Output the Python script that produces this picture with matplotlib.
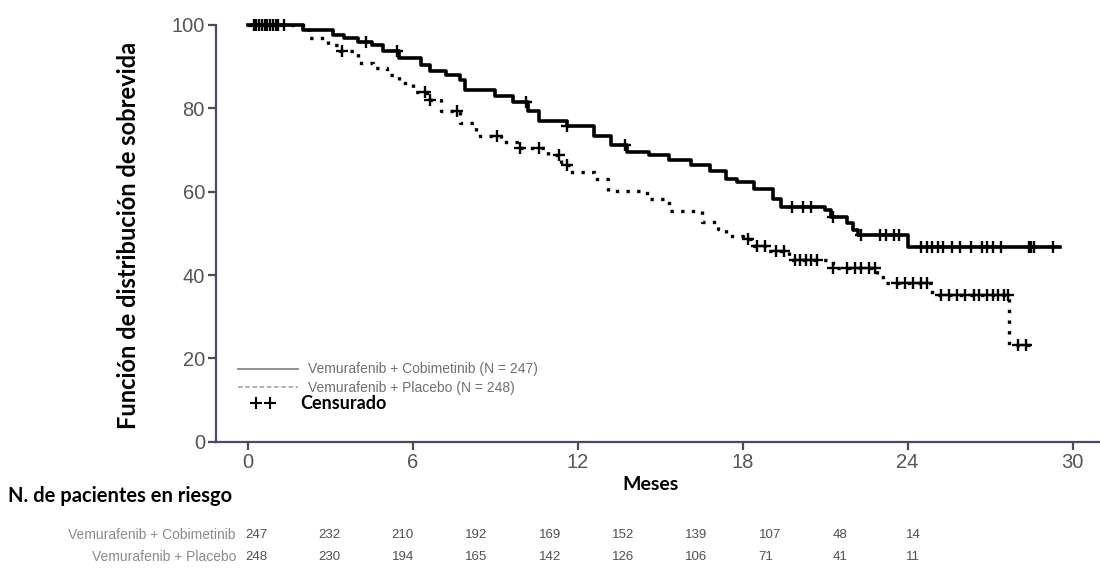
import numpy as np
import matplotlib
matplotlib.use("Agg")
import matplotlib.pyplot as plt

# Kaplan-Meier steps (months, % survival)
cobi_t = [0, 2.0, 3.1, 3.5, 4.0, 4.5, 4.9, 5.5, 6.3, 6.6, 7.2, 7.7, 7.9, 9.0, 9.65, 10.2, 10.6,
          11.6, 12.6, 13.2, 13.8, 14.6, 15.3, 16.1, 16.8, 17.4, 17.8, 18.4, 19.1, 19.4, 21.0,
          21.2, 21.8, 22.0, 22.2, 24.0, 29.55]
cobi_s = [100, 98.8, 97.7, 96.9, 96.0, 95.3, 93.7, 92.0, 90.5, 89.0, 88.0, 86.8, 84.4, 82.9, 81.6,
          79.3, 76.9, 75.7, 73.3, 71.2, 69.6, 68.7, 67.5, 66.5, 65.0, 63.1, 62.4, 60.7, 58.3, 56.4,
          55.6, 54.0, 52.5, 50.8, 49.6, 46.8, 46.8]
cobi_cens = [0.3, 0.5, 0.7, 0.9, 1.1, 1.3, 4.3, 5.4, 10.1, 11.6, 13.7, 19.8, 20.2, 20.5, 21.3,
             22.3, 23.0, 23.2, 23.5, 23.7, 24.5, 24.7, 24.9, 25.1, 25.3, 25.6, 25.9, 26.3, 26.7,
             26.9, 27.1, 27.4, 28.4, 28.5, 28.6, 29.3]

plac_t = [0, 2.2, 2.9, 3.35, 4.0, 4.55, 5.05, 5.5, 6.0, 6.5, 7.0, 7.7, 8.3, 9.2, 9.9, 10.9, 11.4,
          11.7, 12.6, 13.1, 14.5, 15.3, 16.5, 17.1, 17.4, 18.0, 18.4, 18.9, 19.7, 21.3, 22.9,
          23.1, 24.9, 27.7, 28.5]
plac_s = [100, 97.0, 95.3, 93.7, 90.8, 89.6, 88.0, 86.0, 84.0, 82.0, 79.3, 76.4, 73.3, 72.0, 70.4,
          68.7, 66.3, 64.8, 63.1, 60.2, 58.3, 55.4, 52.8, 51.1, 49.4, 48.7, 47.0, 45.8, 43.6, 41.7,
          39.5, 38.0, 35.2, 23.3, 23.3]
plac_cens = [0.2, 0.4, 0.6, 0.8, 1.0, 3.4, 6.45, 6.6, 7.6, 9.05, 9.9, 10.6, 11.3, 11.6, 18.2,
             18.5, 18.8, 19.2, 19.5, 19.9, 20.1, 20.3, 20.5, 20.7, 21.3, 21.8, 22.1, 22.3, 22.6,
             22.8, 23.6, 23.9, 24.2, 24.5, 24.7, 25.2, 25.5, 25.8, 26.1, 26.4, 26.6, 26.9, 27.1,
             27.3, 27.5, 27.65, 28.0, 28.3]

risk_labels = ["Vemurafenib + Cobimetinib", "Vemurafenib + Placebo"]
risk_cobi = [247, 232, 210, 192, 169, 152, 139, 107, 48, 14]
risk_plac = [248, 230, 194, 165, 142, 126, 106, 71, 41, 11]

legend_labels = ["Vemurafenib + Cobimetinib (N = 247)", "Vemurafenib + Placebo (N = 248)"]


def surv_at(times, steps_t, steps_s):
    idx = np.searchsorted(steps_t, times, side="right") - 1
    return np.asarray(steps_s)[idx]


W, H = 1100, 574
fig = plt.figure(figsize=(W / 100, H / 100), dpi=100)
ax = fig.add_axes([216 / W, (H - 441.7) / H, 884 / W, 416.7 / H])

spine_col = "#4a4a66"
tick_col = "#555555"
bold_font = ["Lato", "DejaVu Sans"]

ax.step(cobi_t, cobi_s, where="post", color="black", lw=2.6, clip_on=False)
ax.step(plac_t, plac_s, where="post", color="black", lw=2.4,
        linestyle=(0, (1, 2.2)), dash_capstyle="butt", clip_on=False)
ax.plot(cobi_cens, surv_at(cobi_cens, cobi_t, cobi_s), ls="none", marker="+",
        ms=9, mew=1.7, color="black", clip_on=False)
ax.plot(plac_cens, surv_at(plac_cens, plac_t, plac_s), ls="none", marker="+",
        ms=9, mew=1.7, color="black", clip_on=False)

ax.set_xlim(-1.17, 31.0)
ax.set_ylim(0, 100)
ax.set_xticks([0, 6, 12, 18, 24, 30])
ax.set_yticks([0, 20, 40, 60, 80, 100])
for side in ["top", "right"]:
    ax.spines[side].set_visible(False)
for side in ["left", "bottom"]:
    ax.spines[side].set_color(spine_col)
    ax.spines[side].set_linewidth(1.6)
ax.tick_params(direction="out", length=6, width=1.6, color=spine_col,
               labelcolor=tick_col, labelsize=14.5, pad=2)
for lab in ax.get_xticklabels() + ax.get_yticklabels():
    lab.set_family("Liberation Sans")

fig.text(128 / W, 1 - 235 / H, "Función de distribución de sobrevida", rotation=90,
         ha="center", va="center", family=bold_font, fontweight="bold", fontsize=17)

# legend drawn by hand, like the original
ax.plot([0.025, 0.093], [0.175, 0.175], transform=ax.transAxes, color="#888888", lw=1.3)
ax.plot([0.025, 0.093], [0.132, 0.132], transform=ax.transAxes, color="#aaaaaa", lw=1.3,
        linestyle=(0, (2.5, 1.5)))
ax.text(0.104, 0.175, legend_labels[0], transform=ax.transAxes, va="center",
        fontsize=10, color="#707070", family="Liberation Sans")
ax.text(0.104, 0.130, legend_labels[1], transform=ax.transAxes, va="center",
        fontsize=10, color="#707070", family="Liberation Sans")
ax.plot([0.045, 0.061], [0.092, 0.092], transform=ax.transAxes, ls="none", marker="+",
        ms=9, mew=1.5, color="black")
ax.text(0.095, 0.092, "Censurado", transform=ax.transAxes, va="center",
        fontsize=13, fontweight="bold", family=bold_font)

fig.text(650 / W, 1 - 485 / H, "Meses", ha="center", va="center",
         fontsize=14, fontweight="bold", family=bold_font)
fig.text(8 / W, 1 - 496 / H, "N. de pacientes en riesgo", ha="left", va="center",
         fontsize=14.5, fontweight="bold", family=bold_font)

# number at risk table
row_y = [535, 557]
for row, (lab, vals) in enumerate(zip(risk_labels, [risk_cobi, risk_plac])):
    y = 1 - row_y[row] / H
    fig.text(236 / W, y, lab, ha="right", va="center", fontsize=10,
             color="#8a8a8a", family="Liberation Sans")
    for i, v in enumerate(vals):
        fig.text((245 + i * 73.4) / W, y, str(v), ha="left", va="center",
                 fontsize=9.5, color="#505050", family="Liberation Sans")

fig.savefig("out.png", dpi=100)
